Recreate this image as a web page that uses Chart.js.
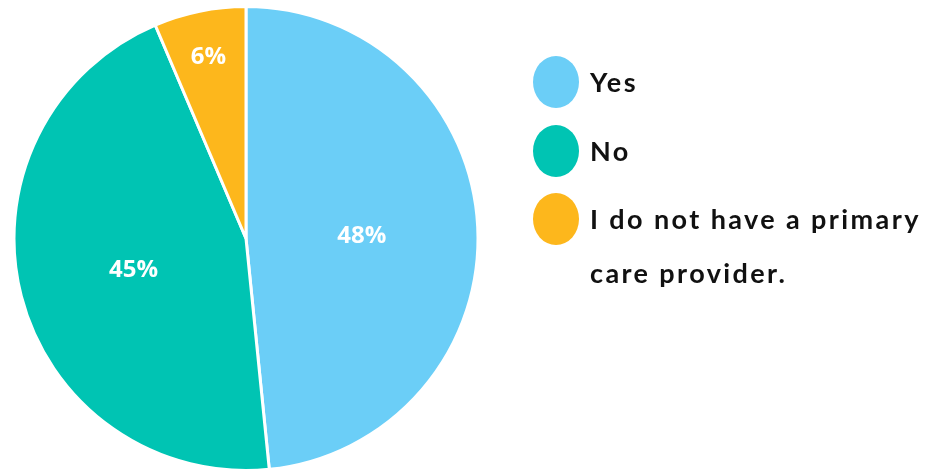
<!DOCTYPE html>
<html>
<head>
<meta charset="utf-8">
<script src="https://cdn.jsdelivr.net/npm/chart.js@4"></script>
<style>
  html, body { margin: 0; padding: 0; background: #fff; }
  #wrap { width: 938px; height: 472px; }
</style>
</head>
<body>
<div id="wrap"><canvas id="pie"></canvas></div>
<script>
const categories = ['Yes', 'No', 'I do not have a primary care provider.'];
const values = [48.4, 45.2, 6.4];
const pctLabels = ['48%', '45%', '6%'];
const colors = ['#6BCEF7', '#00C4B3', '#FDB71C'];
const legendLines = [['Yes'], ['No'], ['I do not have a primary', 'care provider.']];

// white percentages inside the slices
const sliceLabels = {
  id: 'sliceLabels',
  afterDatasetsDraw(chart) {
    const ctx = chart.ctx;
    const meta = chart.getDatasetMeta(0);
    ctx.save();
    ctx.fillStyle = '#fff';
    ctx.font = 'bold 24px "Open Sans", Lato, sans-serif';
    ctx.textAlign = 'center';
    ctx.textBaseline = 'middle';
    meta.data.forEach((arc, i) => {
      const p = arc.getProps(['x', 'y', 'startAngle', 'endAngle', 'outerRadius'], true);
      const mid = (p.startAngle + p.endAngle) / 2;
      const f = values[i] < 10 ? 0.81 : 0.5;
      ctx.fillText(pctLabels[i], p.x + Math.cos(mid) * p.outerRadius * f, p.y + Math.sin(mid) * p.outerRadius * f + 3);
    });
    ctx.restore();
  }
};

// legend on the right with oval markers
const sideLegend = {
  id: 'sideLegend',
  afterDraw(chart) {
    const ctx = chart.ctx;
    const rows = [82, 151, 219];
    ctx.save();
    ctx.font = 'bold 27px Lato, sans-serif';
    ctx.letterSpacing = '2.4px';
    ctx.textBaseline = 'middle';
    rows.forEach((y, i) => {
      ctx.fillStyle = colors[i];
      ctx.beginPath();
      ctx.ellipse(556, y, 23, 26, 0, 0, Math.PI * 2);
      ctx.fill();
      ctx.fillStyle = '#111';
      legendLines[i].forEach((line, j) => {
        ctx.fillText(line, 590, y + 1 + j * 54);
      });
    });
    ctx.restore();
  }
};

new Chart(document.getElementById('pie'), {
  type: 'pie',
  data: {
    labels: categories,
    datasets: [{
      data: values,
      backgroundColor: colors,
      borderColor: '#fff',
      borderWidth: 3
    }]
  },
  options: {
    responsive: true,
    maintainAspectRatio: false,
    animation: false,
    layout: { padding: { left: 10, top: 5, right: 456, bottom: -2 } },
    plugins: {
      legend: { display: false },
      tooltip: { enabled: false }
    }
  },
  plugins: [sliceLabels, sideLegend]
});
</script>
</body>
</html>
